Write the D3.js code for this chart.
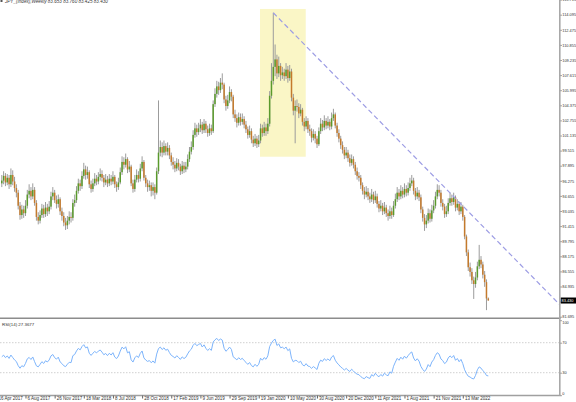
<!DOCTYPE html>
<html><head><meta charset="utf-8">
<script src="https://cdn.jsdelivr.net/npm/d3@7"></script>
<style>
html,body{margin:0;padding:0;background:#fff;overflow:hidden}
svg{display:block}
text{font-family:"Liberation Sans",Arial,sans-serif}
</style></head><body>
<svg id="c" width="576" height="402"></svg>
<script>
const titleText = "JPY_(Index),Weekly  83.653 83.760 83.425 83.430";
const rsiLabel = "RSI(14) 27.3677";
const lastPriceLabel = "83.430";
const firstOpen = 96.0;
const rsiSeedAvgMove = 0.45;
const closes = [
96.3,96.8,96.1,96.6,95.9,96.9,96.2,95.5,95.0,93.6,
92.6,93.2,92.8,93.6,94.8,95.2,94.6,95.3,93.9,92.4,
92.0,92.6,93.3,92.7,93.4,93.0,93.5,94.6,95.0,94.2,
93.8,94.3,93.0,92.5,91.8,91.5,92.0,92.4,92.3,93.9,
94.2,95.2,96.0,95.7,96.8,97.5,96.9,97.2,95.9,95.4,
96.0,96.5,96.2,96.7,97.0,96.6,96.1,96.4,96.0,96.5,
96.2,96.7,95.9,95.6,96.1,97.2,98.3,98.0,98.6,97.5,
97.8,96.0,95.4,96.4,96.9,96.5,97.6,98.3,96.6,96.0,
95.6,95.8,95.2,95.6,95.0,97.3,99.3,99.9,99.3,100.0,
99.4,99.8,99.0,98.3,98.0,97.6,98.2,97.8,97.3,97.9,
97.5,97.8,98.6,99.4,99.9,101.2,101.9,101.5,101.9,102.3,
101.7,102.4,101.8,101.4,101.9,101.6,104.5,105.6,106.4,106.0,
106.8,106.6,105.0,104.3,104.9,105.8,105.3,103.4,103.0,102.5,
103.1,102.6,102.9,102.3,101.8,101.2,101.6,100.7,100.3,100.8,
100.2,100.6,101.9,101.4,102.0,101.6,102.4,105.4,107.0,108.5,
109.3,107.8,108.6,107.6,107.9,107.5,108.2,107.3,108.0,105.2,
103.8,104.3,104.2,103.5,103.9,102.6,102.1,102.7,101.8,101.6,
100.9,101.3,100.8,100.2,101.6,102.4,102.0,102.7,102.2,102.6,
102.1,103.0,103.4,102.2,101.4,100.8,100.1,99.6,99.0,99.3,
98.7,98.2,98.6,98.0,97.3,96.8,96.6,95.8,95.2,94.8,
95.1,94.6,94.3,94.8,94.2,94.6,93.8,93.3,93.6,93.0,
93.4,92.8,92.5,93.0,92.6,93.6,94.3,95.0,94.6,95.2,
94.8,95.4,95.0,95.5,96.0,96.3,95.2,94.6,95.0,94.5,
93.2,92.3,91.6,92.0,92.8,92.2,93.1,93.6,94.6,95.3,
95.0,93.9,93.5,92.7,93.0,93.9,94.4,94.0,94.5,93.4,
93.8,93.0,93.5,92.4,90.3,88.6,87.0,86.5,85.6,85.2,
85.9,87.1,87.8,87.3,86.2,85.4,83.653,83.43];
const highs = [
96.9,97.3,97.1,97.0,96.9,97.6,97.4,96.7,95.9,95.3,
94.0,93.7,93.6,94.2,95.3,95.9,95.6,96.0,95.6,94.2,
92.9,93.1,93.8,93.7,94.0,93.8,94.1,95.1,95.6,95.3,
94.7,94.8,94.5,93.4,92.9,92.3,92.5,93.0,92.9,94.3,
94.8,95.7,96.5,96.4,97.3,98.2,97.9,97.8,97.4,96.3,
96.5,97.1,96.9,97.2,97.6,97.4,96.9,97.0,96.8,97.0,
96.9,97.3,96.9,96.2,96.6,97.7,98.9,98.8,99.2,98.8,
98.4,98.0,96.4,96.9,97.5,97.3,98.1,98.9,98.5,96.9,
96.4,96.3,96.1,96.1,95.9,97.7,104.9,100.6,100.4,100.6,
100.3,100.4,100.1,99.3,98.8,98.4,98.7,98.6,98.1,98.4,
98.3,98.3,99.1,99.9,100.5,101.7,102.5,102.3,102.5,102.9,
102.6,102.9,102.7,102.2,102.4,102.3,104.9,106.2,107.0,106.9,
107.3,107.8,106.8,105.4,105.5,106.4,106.1,105.5,103.9,103.4,
103.6,103.5,103.5,103.2,102.7,102.1,102.2,101.9,101.1,101.3,
101.1,101.2,102.4,102.3,102.6,102.4,103.0,105.9,108.9,114.3,
110.9,109.8,109.6,108.9,108.5,108.3,108.9,108.6,108.7,108.3,
105.6,104.9,105.0,104.6,104.5,104.1,103.0,103.2,103.0,102.3,
101.9,101.8,101.6,101.1,102.0,103.0,102.8,103.3,103.0,103.2,
102.9,103.6,104.0,103.6,102.5,101.8,101.1,100.5,99.9,99.9,
99.6,99.1,99.1,98.9,98.3,97.7,97.2,96.9,96.1,95.6,
95.7,95.5,95.0,95.4,95.1,95.2,94.9,94.1,94.2,93.9,
94.0,93.7,93.2,93.6,93.4,94.1,94.9,95.6,95.4,95.8,
95.6,96.0,95.8,96.1,96.6,96.9,96.6,95.5,95.6,95.3,
94.8,93.5,92.7,92.6,93.3,93.2,93.7,94.2,95.1,95.9,
95.8,95.3,94.3,93.8,93.6,94.4,95.0,94.8,95.0,94.7,
94.3,94.0,94.0,93.7,92.6,90.5,88.9,87.5,86.9,86.0,
86.5,87.6,89.4,88.2,87.6,86.6,85.7,83.76];
const lows = [
95.6,95.9,95.7,95.8,95.4,95.6,95.8,95.1,94.5,93.2,
92.1,92.2,92.3,92.5,93.3,94.4,94.2,94.3,93.6,92.0,
91.6,91.7,92.3,92.3,92.4,92.5,92.7,93.2,94.2,93.9,
93.3,93.4,92.6,92.0,91.4,91.0,91.1,91.6,91.8,92.0,
93.5,93.9,94.9,95.2,95.4,96.5,96.4,96.5,95.5,95.0,
95.1,95.7,95.8,95.9,96.3,96.2,95.6,95.8,95.6,95.7,
95.8,95.9,95.5,95.1,95.3,95.9,96.9,97.5,97.7,97.1,
97.2,95.7,95.0,95.1,96.1,96.1,96.2,97.3,96.3,95.6,
95.1,95.2,94.6,94.7,94.3,94.8,97.0,98.9,98.8,99.0,
99.0,99.0,98.6,97.9,97.5,97.2,97.3,97.4,96.9,97.0,
97.1,97.2,97.5,98.3,99.1,99.6,100.9,101.0,101.2,101.5,
101.3,101.4,101.4,101.0,101.1,101.2,101.4,104.2,105.2,105.5,
105.7,106.1,104.6,103.8,104.0,104.6,104.8,103.0,102.6,102.0,
102.2,102.2,102.3,101.9,101.4,100.8,100.9,100.3,99.9,100.0,
99.8,99.9,100.3,101.0,101.1,101.1,101.3,102.1,105.1,106.6,
107.5,107.2,107.4,107.0,107.2,107.0,107.2,106.8,107.0,104.8,
103.3,100.3,103.7,103.0,103.2,102.2,101.6,101.8,101.4,101.1,
100.4,100.6,100.3,99.8,100.0,101.3,101.6,101.7,101.8,101.9,
101.7,101.8,102.7,101.9,101.0,100.4,99.7,99.2,98.6,98.7,
98.3,97.8,97.9,97.6,96.9,96.4,96.2,95.4,94.8,94.3,
94.5,94.2,93.9,94.0,93.8,93.9,93.4,92.9,93.0,92.6,
92.7,92.4,92.0,92.2,92.2,92.4,93.3,94.0,94.2,94.3,
94.4,94.5,94.6,94.7,95.2,95.7,94.8,94.2,94.3,94.1,
92.8,91.9,90.9,91.2,91.7,91.8,91.9,92.8,93.3,94.3,
94.6,93.5,93.1,92.3,92.4,92.7,93.6,93.6,93.7,93.0,
93.1,92.6,92.7,92.0,90.0,88.2,86.6,86.0,85.2,83.6,
84.8,85.6,86.8,86.9,85.8,84.9,82.4,83.425];
const priceTicks = [81.695,83.315,84.935,86.555,88.175,89.795,91.415,93.035,94.655,96.275,97.895,99.515,101.135,102.755,104.375,105.995,107.615,109.235,110.855,112.475,114.095,115.715];
const rsiTicks = [0,30,70,100];
const rsiLevels = [30,70];
const dateTickIdx = [-3,13,29,45,61,77,93,109,125,141,157,173,189,205,221,237,253];
const dateTickLabels = ["16 Apr 2017","6 Aug 2017","26 Nov 2017","18 Mar 2018","8 Jul 2018","28 Oct 2018","17 Feb 2019","9 Jun 2019","29 Sep 2019","19 Jan 2020","10 May 2020","30 Aug 2020","20 Dec 2020","11 Apr 2021","1 Aug 2021","21 Nov 2021","13 Mar 2022"];
const highlightBox = {i0:141.7, i1:166.8, top:114.71, bottom:98.86};
const trendPts = [[149,114.3],[238,96.57]];

const opens = [firstOpen].concat(closes.slice(0,-1));
const N = closes.length;
const svg = d3.select("#c");
const axisX = 559.5;
const mainTop = 0, mainBot = 317.7, rsiTop = 319, rsiBot = 395.5;

const x = d3.scaleLinear().domain([0, N-1]).range([1.8, 488.3]);
const y = d3.scaleLinear().domain([81.695, 115.715]).range([316.7, -0.4]);
const yr = d3.scaleLinear().domain([0,100]).range([395.2, 320.2]);

function computeRSI(cl, n, seed){
  const out = new Array(cl.length).fill(null);
  let ag=seed, al=seed;
  const c0 = [firstOpen].concat(cl);
  for(let k=1;k<c0.length;k++){
    const ch = c0[k]-c0[k-1];
    const g = Math.max(ch,0), l = Math.max(-ch,0);
    ag=(ag*(n-1)+g)/n; al=(al*(n-1)+l)/n;
    out[k-1] = al===0 ? 100 : 100 - 100/(1+ag/al);
  }
  return out;
}
const rsi = computeRSI(closes,14,rsiSeedAvgMove);

const defs = svg.append("defs");
defs.append("clipPath").attr("id","mainClip").append("rect").attr("x",0).attr("y",mainTop).attr("width",axisX-0.5).attr("height",mainBot-mainTop-0.7);
defs.append("clipPath").attr("id","rsiClip").append("rect").attr("x",0).attr("y",rsiTop).attr("width",axisX-0.5).attr("height",rsiBot-rsiTop);

const main = svg.append("g").attr("clip-path","url(#mainClip)");
main.append("rect")
  .attr("x", x(highlightBox.i0)).attr("y", y(highlightBox.top))
  .attr("width", x(highlightBox.i1)-x(highlightBox.i0))
  .attr("height", y(highlightBox.bottom)-y(highlightBox.top))
  .attr("fill","#faf6c6");

const idx = d3.range(N);
main.append("g").selectAll("line").data(idx).join("line")
  .attr("x1", i=>x(i)).attr("x2", i=>x(i))
  .attr("y1", i=>y(highs[i])).attr("y2", i=>y(lows[i]))
  .attr("stroke","#9c9c9c").attr("stroke-width",1);
main.append("g").selectAll("rect").data(idx).join("rect")
  .attr("x", i=>x(i)-0.75).attr("width",1.5)
  .attr("y", i=>y(Math.max(opens[i],closes[i])))
  .attr("height", i=>Math.max(0.7, Math.abs(y(opens[i])-y(closes[i]))))
  .attr("fill", i=> closes[i]>=opens[i] ? "#5a9a2c" : "#c47a2c");

const slope = (trendPts[1][1]-trendPts[0][1])/(trendPts[1][0]-trendPts[0][0]);
const endI = x.invert(axisX);
main.append("line")
  .attr("x1", x(trendPts[0][0])).attr("y1", y(trendPts[0][1]))
  .attr("x2", x(endI)).attr("y2", y(trendPts[0][1]+slope*(endI-trendPts[0][0])))
  .attr("stroke","#9d9de4").attr("stroke-width",1.2).attr("stroke-dasharray","5,3");

const rg = svg.append("g").attr("clip-path","url(#rsiClip)");
rg.selectAll("line.lvl").data(rsiLevels).join("line").attr("class","lvl")
  .attr("x1",0).attr("x2",axisX).attr("y1",d=>yr(d)).attr("y2",d=>yr(d))
  .attr("stroke","#c4c4c4").attr("stroke-width",0.8).attr("stroke-dasharray","1.5,1.5");
const rline = d3.line().defined(d=>d!==null).x((d,i)=>x(i)).y(d=>yr(d));
rg.append("path").datum(rsi).attr("d",rline).attr("fill","none").attr("stroke","#7db4fb").attr("stroke-width",1);

svg.append("line").attr("x1",0).attr("x2",axisX+1).attr("y1",mainBot+0.5).attr("y2",mainBot+0.5).attr("stroke","#8c8c8c").attr("stroke-width",1.6);
svg.append("line").attr("x1",0).attr("x2",axisX+1).attr("y1",rsiBot).attr("y2",rsiBot).attr("stroke","#a0a0a0").attr("stroke-width",1.4);
svg.append("line").attr("x1",axisX+0.3).attr("x2",axisX+0.3).attr("y1",0).attr("y2",rsiBot).attr("stroke","#a8a8a8").attr("stroke-width",1.6);

const pa = svg.append("g").attr("transform",`translate(${axisX+1},0)`)
  .call(d3.axisRight(y).tickValues(priceTicks).tickFormat(d3.format(".3f")).tickSize(1.2).tickPadding(0.6));
pa.select(".domain").remove();
pa.selectAll("line").attr("stroke","#777");
pa.selectAll("text").attr("font-size","3.9px").attr("fill","#333").attr("font-family","Liberation Sans, Arial, sans-serif");

const lp = closes[N-1];
svg.append("rect").attr("x",axisX+1.3).attr("y",y(lp)-3).attr("width",15.2).attr("height",6).attr("fill","#000");
svg.append("text").attr("x",axisX+2).attr("y",y(lp)).attr("dy","0.35em").attr("font-size","3.9px").attr("fill","#fff").text(lastPriceLabel);

const ra = svg.append("g").attr("transform",`translate(${axisX+1},0)`)
  .call(d3.axisRight(yr).tickValues(rsiTicks).tickSize(1.2).tickPadding(0.6));
ra.select(".domain").remove();
ra.selectAll("line").attr("stroke","#777");
ra.selectAll("text").attr("font-size","3.9px").attr("fill","#333").attr("font-family","Liberation Sans, Arial, sans-serif");
ra.selectAll(".tick").filter(d=>d===100).select("text").attr("dy","0.9em");
ra.selectAll(".tick").filter(d=>d===0).select("text").attr("dy","-0.1em");

const da = svg.append("g").attr("transform",`translate(0,${rsiBot})`)
  .call(d3.axisBottom(x).tickValues(dateTickIdx).tickFormat((d,i)=>dateTickLabels[i]).tickSize(3).tickPadding(-1.5));
da.select(".domain").remove();
da.selectAll("line").attr("stroke","#666");
da.selectAll("text").attr("font-size","4.5px").attr("fill","#333").attr("text-anchor","start").attr("dx","1.6").attr("font-family","Liberation Sans, Arial, sans-serif");

svg.append("text").attr("x",2).attr("y",326).attr("font-size","4.4px").attr("fill","#333").text(rsiLabel);
svg.append("rect").attr("x",0.5).attr("y",0).attr("width",2).attr("height",2).attr("fill","#555");
svg.append("text").attr("x",5).attr("y",2.6).attr("font-size","4.6px").attr("fill","#333").attr("font-style","italic").text(titleText);
</script>
</body></html>
